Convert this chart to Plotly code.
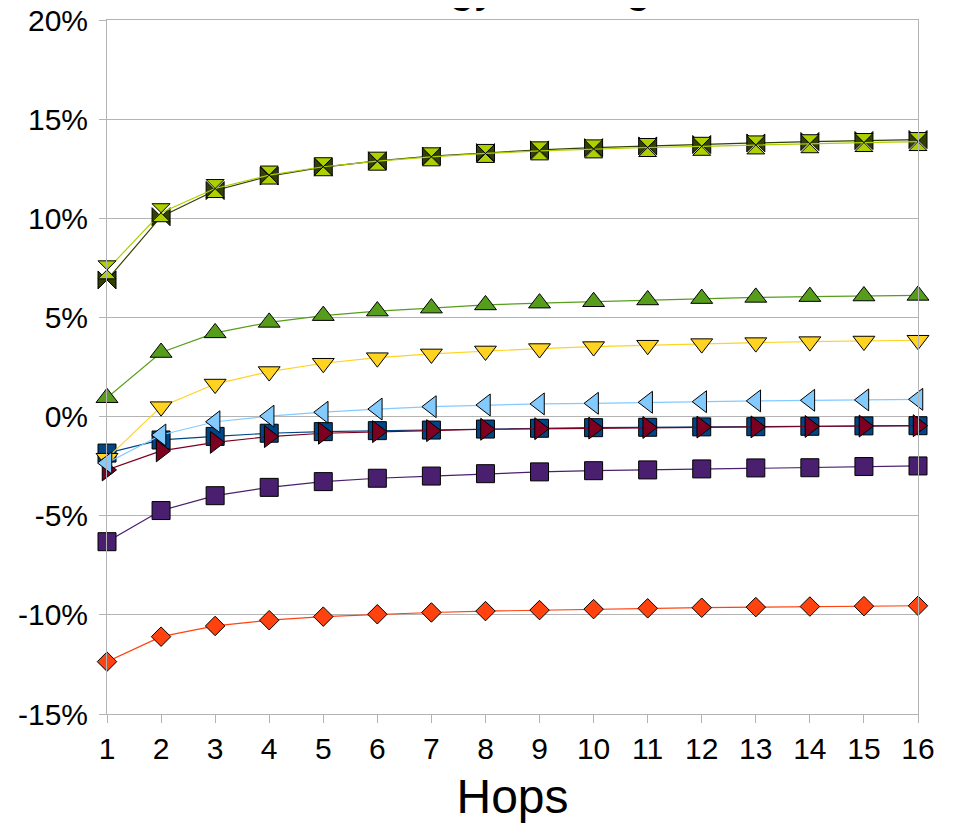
import plotly.graph_objects as go

hops = list(range(1, 17))

series_names = ["S1", "S2", "S3", "S4", "S5", "S6", "S7", "S8", "S9"]
dark_blue_sq = [-1.84, -1.18, -1.0, -0.84, -0.76, -0.71, -0.68, -0.63, -0.59, -0.56, -0.54, -0.52, -0.51, -0.49, -0.47, -0.46]
orange_diamond = [-12.36, -11.1, -10.56, -10.27, -10.09, -9.97, -9.88, -9.81, -9.76, -9.71, -9.67, -9.64, -9.61, -9.58, -9.56, -9.54]
yellow_down = [-2.1, 0.5, 1.64, 2.27, 2.69, 2.97, 3.16, 3.31, 3.43, 3.53, 3.6, 3.68, 3.73, 3.78, 3.81, 3.85]
green_up = [0.95, 3.23, 4.22, 4.75, 5.09, 5.32, 5.47, 5.63, 5.72, 5.79, 5.88, 5.95, 6.01, 6.05, 6.08, 6.11]
maroon_right = [-2.69, -1.73, -1.3, -1.01, -0.84, -0.76, -0.71, -0.64, -0.61, -0.58, -0.55, -0.53, -0.52, -0.5, -0.48, -0.46]
lightblue_left = [-2.34, -0.93, -0.26, 0.02, 0.22, 0.38, 0.5, 0.585, 0.64, 0.67, 0.72, 0.75, 0.79, 0.82, 0.84, 0.87]
olive_bowtie = [6.89, 10.08, 11.4, 12.13, 12.58, 12.9, 13.14, 13.31, 13.45, 13.56, 13.65, 13.72, 13.8, 13.87, 13.92, 13.97]
lime_hourglass = [7.4, 10.28, 11.5, 12.18, 12.6, 12.88, 13.1, 13.27, 13.4, 13.5, 13.57, 13.63, 13.7, 13.76, 13.82, 13.87]
purple_square = [-6.31, -4.74, -3.99, -3.57, -3.28, -3.11, -3.0, -2.88, -2.79, -2.73, -2.69, -2.64, -2.59, -2.58, -2.52, -2.49]

y_tickvals = [20, 15, 10, 5, 0, -5, -10, -15]
y_ticktext = ["20%", "15%", "10%", "5%", "0%", "-5%", "-10%", "-15%"]

title_text = "Energy Savings"
x_title = "Hops"

series = [
    (dark_blue_sq, "#004586", "square", 18),
    (orange_diamond, "#ff420e", "diamond", 15),
    (yellow_down, "#ffd320", "triangle-down", 19),
    (green_up, "#579d1c", "triangle-up", 19),
    (maroon_right, "#7e0021", "triangle-right", 19),
    (lightblue_left, "#83caff", "triangle-left", 19),
    (olive_bowtie, "#314004", "bowtie", 18),
    (lime_hourglass, "#aecf00", "hourglass", 18),
    (purple_square, "#4b1f6f", "square", 18),
]

fig = go.Figure()
for name, (vals, col, sym, sz) in zip(series_names, series):
    fig.add_trace(go.Scatter(
        x=hops, y=vals, name=name, mode="lines+markers",
        line=dict(color=col, width=1.2),
        marker=dict(symbol=sym, size=sz, color=col, line=dict(color="#000000", width=1)),
        cliponaxis=False, showlegend=False,
    ))

fig.add_annotation(
    text=title_text, xref="paper", yref="paper", x=0.5, y=1.0101,
    xanchor="center", yanchor="bottom", showarrow=False,
    font=dict(size=46, color="#000000", family="Liberation Sans"),
)

grid = "#b3b3b3"
fig.update_layout(
    width=945, height=818,
    margin=dict(l=99, r=35, t=12, b=112, autoexpand=False),
    paper_bgcolor="white", plot_bgcolor="white",
    font=dict(family="Liberation Sans", size=30, color="#000000"),
    xaxis=dict(
        range=[1, 16], tickmode="array", tickvals=hops, ticktext=[str(h) for h in hops],
        showgrid=False, showline=True, linecolor=grid, linewidth=1, mirror=True,
        ticks="outside", ticklen=8, tickcolor=grid, zeroline=False, automargin=False,
        title=dict(text=x_title, font=dict(size=48), standoff=15),
        tickfont=dict(size=30), ticklabeloverflow="allow",
    ),
    yaxis=dict(
        range=[-15, 20], tickmode="array", tickvals=y_tickvals, ticktext=y_ticktext,
        showgrid=True, gridcolor=grid, gridwidth=1,
        showline=True, linecolor=grid, linewidth=1, mirror=True,
        ticks="outside", ticklen=7, tickcolor=grid, zeroline=False, automargin=False,
        ticklabelstandoff=5, ticklabeloverflow="allow",
        tickfont=dict(size=30),
    ),
)

fig.write_html("out.html")
